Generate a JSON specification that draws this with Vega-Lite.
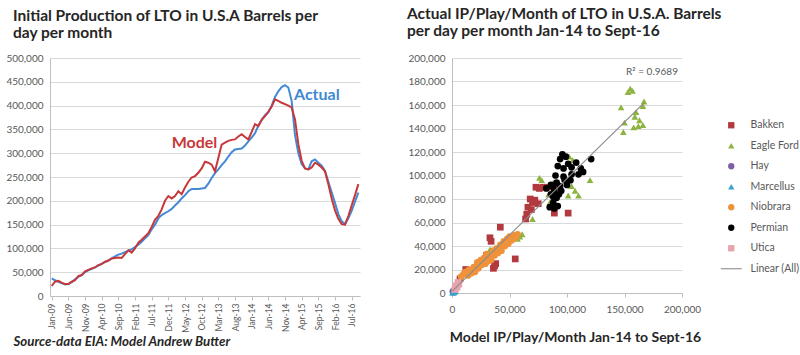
{
  "$schema": "https://vega.github.io/schema/vega-lite/v6.json",
  "background": "white",
  "padding": {"left": 5, "top": 6, "right": 5, "bottom": 5},
  "spacing": 44,
  "config": {"font": "Lato", "view": {"stroke": null}},
  "resolve": {"scale": {"color": "independent", "shape": "independent", "size": "independent"}, "legend": {"color": "independent", "shape": "independent"}},
  "datasets": {
    "prod": [
      {"m":"Jan-09","Actual":37000,"Model":21000},{"m":"Feb-09","Actual":33000,"Model":30000},{"m":"Mar-09","Actual":30000,"Model":32000},{"m":"Apr-09","Actual":27000,"Model":28000},{"m":"May-09","Actual":24000,"Model":25000},{"m":"Jun-09","Actual":25000,"Model":25000},{"m":"Jul-09","Actual":29000,"Model":30000},{"m":"Aug-09","Actual":35000,"Model":33000},{"m":"Sep-09","Actual":40000,"Model":42000},{"m":"Oct-09","Actual":44000,"Model":44000},{"m":"Nov-09","Actual":50000,"Model":52000},{"m":"Dec-09","Actual":54000,"Model":55000},
      {"m":"Jan-10","Actual":57000,"Model":58000},{"m":"Feb-10","Actual":60000,"Model":60000},{"m":"Mar-10","Actual":64000,"Model":65000},{"m":"Apr-10","Actual":68000,"Model":67000},{"m":"May-10","Actual":71000,"Model":72000},{"m":"Jun-10","Actual":75000,"Model":74000},{"m":"Jul-10","Actual":79000,"Model":79000},{"m":"Aug-10","Actual":83000,"Model":80000},{"m":"Sep-10","Actual":87000,"Model":81000},{"m":"Oct-10","Actual":89000,"Model":80000},{"m":"Nov-10","Actual":92000,"Model":88000},{"m":"Dec-10","Actual":95000,"Model":96000},
      {"m":"Jan-11","Actual":98000,"Model":91000},{"m":"Feb-11","Actual":103000,"Model":100000},{"m":"Mar-11","Actual":108000,"Model":112000},{"m":"Apr-11","Actual":114000,"Model":118000},{"m":"May-11","Actual":121000,"Model":125000},{"m":"Jun-11","Actual":128000,"Model":132000},{"m":"Jul-11","Actual":140000,"Model":145000},{"m":"Aug-11","Actual":150000,"Model":160000},{"m":"Sep-11","Actual":163000,"Model":168000},{"m":"Oct-11","Actual":170000,"Model":182000},{"m":"Nov-11","Actual":174000,"Model":200000},{"m":"Dec-11","Actual":178000,"Model":210000},
      {"m":"Jan-12","Actual":183000,"Model":205000},{"m":"Feb-12","Actual":190000,"Model":210000},{"m":"Mar-12","Actual":197000,"Model":220000},{"m":"Apr-12","Actual":205000,"Model":214000},{"m":"May-12","Actual":212000,"Model":228000},{"m":"Jun-12","Actual":220000,"Model":240000},{"m":"Jul-12","Actual":225000,"Model":249000},{"m":"Aug-12","Actual":225000,"Model":252000},{"m":"Sep-12","Actual":225000,"Model":259000},{"m":"Oct-12","Actual":226000,"Model":268000},{"m":"Nov-12","Actual":227000,"Model":282000},{"m":"Dec-12","Actual":236000,"Model":280000},
      {"m":"Jan-13","Actual":248000,"Model":276000},{"m":"Feb-13","Actual":258000,"Model":262000},{"m":"Mar-13","Actual":266000,"Model":290000},{"m":"Apr-13","Actual":275000,"Model":318000},{"m":"May-13","Actual":283000,"Model":322000},{"m":"Jun-13","Actual":293000,"Model":326000},{"m":"Jul-13","Actual":302000,"Model":328000},{"m":"Aug-13","Actual":308000,"Model":329000},{"m":"Sep-13","Actual":309000,"Model":335000},{"m":"Oct-13","Actual":310000,"Model":340000},{"m":"Nov-13","Actual":316000,"Model":334000},{"m":"Dec-13","Actual":325000,"Model":329000},
      {"m":"Jan-14","Actual":333000,"Model":345000},{"m":"Feb-14","Actual":342000,"Model":361000},{"m":"Mar-14","Actual":358000,"Model":357000},{"m":"Apr-14","Actual":370000,"Model":370000},{"m":"May-14","Actual":380000,"Model":378000},{"m":"Jun-14","Actual":386000,"Model":387000},{"m":"Jul-14","Actual":400000,"Model":398000},{"m":"Aug-14","Actual":418000,"Model":413000},{"m":"Sep-14","Actual":430000,"Model":410000},{"m":"Oct-14","Actual":439000,"Model":406000},{"m":"Nov-14","Actual":443000,"Model":403000},{"m":"Dec-14","Actual":438000,"Model":400000},
      {"m":"Jan-15","Actual":410000,"Model":396000},{"m":"Feb-15","Actual":338000,"Model":371000},{"m":"Mar-15","Actual":300000,"Model":319000},{"m":"Apr-15","Actual":277000,"Model":284000},{"m":"May-15","Actual":268000,"Model":268000},{"m":"Jun-15","Actual":266000,"Model":266000},{"m":"Jul-15","Actual":283000,"Model":270000},{"m":"Aug-15","Actual":287000,"Model":280000},{"m":"Sep-15","Actual":280000,"Model":276000},{"m":"Oct-15","Actual":274000,"Model":270000},{"m":"Nov-15","Actual":263000,"Model":262000},{"m":"Dec-15","Actual":240000,"Model":235000},
      {"m":"Jan-16","Actual":218000,"Model":205000},{"m":"Feb-16","Actual":196000,"Model":180000},{"m":"Mar-16","Actual":172000,"Model":162000},{"m":"Apr-16","Actual":157000,"Model":151000},{"m":"May-16","Actual":151000,"Model":150000},{"m":"Jun-16","Actual":163000,"Model":168000},{"m":"Jul-16","Actual":179000,"Model":190000},{"m":"Aug-16","Actual":198000,"Model":212000},{"m":"Sep-16","Actual":217000,"Model":235000}
    ],
    "scatter": [
      {"play":"Bakken","x":73000,"y":90000},{"play":"Bakken","x":79000,"y":90000},{"play":"Bakken","x":76000,"y":89000},{"play":"Bakken","x":83000,"y":90000},{"play":"Bakken","x":68000,"y":80000},{"play":"Bakken","x":70000,"y":77000},{"play":"Bakken","x":66000,"y":73000},{"play":"Bakken","x":65000,"y":67000},{"play":"Bakken","x":75000,"y":76000},{"play":"Bakken","x":72000,"y":79000},{"play":"Bakken","x":69000,"y":71000},{"play":"Bakken","x":64000,"y":63000},{"play":"Bakken","x":89000,"y":68000},{"play":"Bakken","x":101000,"y":68000},{"play":"Bakken","x":90000,"y":90000},{"play":"Bakken","x":42000,"y":56000},{"play":"Bakken","x":33000,"y":47000},{"play":"Bakken","x":34000,"y":44000},{"play":"Bakken","x":37000,"y":23000},{"play":"Bakken","x":36000,"y":21000},{"play":"Bakken","x":38000,"y":25000},{"play":"Bakken","x":55000,"y":29000},{"play":"Bakken","x":12000,"y":20000},{"play":"Bakken","x":7000,"y":12000},{"play":"Bakken","x":14000,"y":18000},{"play":"Bakken","x":30000,"y":32000},{"play":"Bakken","x":45000,"y":41000},
      {"play":"Eagle Ford","x":155000,"y":174000},{"play":"Eagle Ford","x":153000,"y":171000},{"play":"Eagle Ford","x":157000,"y":172000},{"play":"Eagle Ford","x":147000,"y":158000},{"play":"Eagle Ford","x":167000,"y":163000},{"play":"Eagle Ford","x":166000,"y":159000},{"play":"Eagle Ford","x":160000,"y":154000},{"play":"Eagle Ford","x":159000,"y":150000},{"play":"Eagle Ford","x":163000,"y":147000},{"play":"Eagle Ford","x":162000,"y":142000},{"play":"Eagle Ford","x":158000,"y":141000},{"play":"Eagle Ford","x":150000,"y":145000},{"play":"Eagle Ford","x":149000,"y":137000},{"play":"Eagle Ford","x":166000,"y":143000},
      {"play":"Eagle Ford","x":102000,"y":116000},{"play":"Eagle Ford","x":105000,"y":113000},{"play":"Eagle Ford","x":78000,"y":96000},{"play":"Eagle Ford","x":76000,"y":98000},{"play":"Eagle Ford","x":120000,"y":96000},{"play":"Eagle Ford","x":104000,"y":91000},{"play":"Eagle Ford","x":107000,"y":87000},{"play":"Eagle Ford","x":101000,"y":83000},{"play":"Eagle Ford","x":110000,"y":83000},{"play":"Eagle Ford","x":88000,"y":94000},{"play":"Eagle Ford","x":84000,"y":84000},{"play":"Eagle Ford","x":85000,"y":77000},{"play":"Eagle Ford","x":88000,"y":80000},{"play":"Eagle Ford","x":70000,"y":63000},{"play":"Eagle Ford","x":61000,"y":50000},{"play":"Eagle Ford","x":59000,"y":48000},{"play":"Eagle Ford","x":57000,"y":46000},{"play":"Eagle Ford","x":33000,"y":37000},
      {"play":"Hay","x":1000,"y":1000},{"play":"Hay","x":1500,"y":800},{"play":"Hay","x":800,"y":1300},
      {"play":"Marcellus","x":500,"y":300},{"play":"Marcellus","x":1000,"y":600},{"play":"Marcellus","x":1500,"y":900},{"play":"Marcellus","x":2000,"y":1200},{"play":"Marcellus","x":2500,"y":1500},{"play":"Marcellus","x":3000,"y":1800},{"play":"Marcellus","x":800,"y":1500},{"play":"Marcellus","x":1800,"y":500},
      {"play":"Niobrara","x":8000,"y":14000},{"play":"Niobrara","x":10000,"y":16000},{"play":"Niobrara","x":12000,"y":18000},{"play":"Niobrara","x":14000,"y":15000},{"play":"Niobrara","x":15000,"y":20000},{"play":"Niobrara","x":17000,"y":17000},{"play":"Niobrara","x":19000,"y":22000},{"play":"Niobrara","x":20000,"y":18000},{"play":"Niobrara","x":22000,"y":26000},{"play":"Niobrara","x":23000,"y":21000},{"play":"Niobrara","x":25000,"y":28000},{"play":"Niobrara","x":26000,"y":24000},{"play":"Niobrara","x":28000,"y":30000},{"play":"Niobrara","x":29000,"y":25000},{"play":"Niobrara","x":30000,"y":33000},{"play":"Niobrara","x":31000,"y":27000},{"play":"Niobrara","x":33000,"y":31000},{"play":"Niobrara","x":34000,"y":28000},{"play":"Niobrara","x":36000,"y":36000},{"play":"Niobrara","x":37000,"y":32000},{"play":"Niobrara","x":39000,"y":38000},{"play":"Niobrara","x":40000,"y":34000},{"play":"Niobrara","x":42000,"y":41000},{"play":"Niobrara","x":43000,"y":36000},{"play":"Niobrara","x":45000,"y":44000},{"play":"Niobrara","x":46000,"y":40000},{"play":"Niobrara","x":48000,"y":46000},{"play":"Niobrara","x":49000,"y":42000},{"play":"Niobrara","x":50000,"y":48000},{"play":"Niobrara","x":52000,"y":45000},{"play":"Niobrara","x":54000,"y":49000},{"play":"Niobrara","x":55000,"y":47000},{"play":"Niobrara","x":57000,"y":50000},
      {"play":"Permian","x":96000,"y":118000},{"play":"Permian","x":99000,"y":116000},{"play":"Permian","x":94000,"y":114000},{"play":"Permian","x":101000,"y":110000},{"play":"Permian","x":92000,"y":108000},{"play":"Permian","x":121000,"y":114000},{"play":"Permian","x":108000,"y":111000},{"play":"Permian","x":112000,"y":106000},{"play":"Permian","x":104000,"y":107000},{"play":"Permian","x":97000,"y":106000},{"play":"Permian","x":110000,"y":101000},{"play":"Permian","x":104000,"y":101000},{"play":"Permian","x":97000,"y":99000},{"play":"Permian","x":91000,"y":94000},{"play":"Permian","x":88000,"y":90000},{"play":"Permian","x":94000,"y":91000},{"play":"Permian","x":89000,"y":87000},{"play":"Permian","x":86000,"y":84000},{"play":"Permian","x":91000,"y":81000},{"play":"Permian","x":88000,"y":77000},{"play":"Permian","x":92000,"y":74000},{"play":"Permian","x":85000,"y":73000},{"play":"Permian","x":89000,"y":72000},{"play":"Permian","x":95000,"y":87000},{"play":"Permian","x":82000,"y":89000},{"play":"Permian","x":98000,"y":96000},{"play":"Permian","x":90000,"y":100000},{"play":"Permian","x":86000,"y":92000},{"play":"Permian","x":93000,"y":84000},{"play":"Permian","x":100000,"y":92000},{"play":"Permian","x":88000,"y":82000},{"play":"Permian","x":114000,"y":103000},{"play":"Permian","x":103000,"y":96000},
      {"play":"Utica","x":5200,"y":9000},{"play":"Utica","x":3800,"y":6200},{"play":"Utica","x":4500,"y":5000},{"play":"Utica","x":3000,"y":4000},{"play":"Utica","x":2500,"y":3000},{"play":"Utica","x":6000,"y":7500}
    ]
  },
  "hconcat": [
    {
      "width": 310,
      "height": 238,
      "title": {"text": ["Initial Production of LTO in U.S.A Barrels per", "day per month"], "anchor": "start", "frame": "group", "dx": -37, "fontSize": 15.5, "fontWeight": "bold", "color": "#262626", "lineHeight": 17.5, "offset": 11.5},
      "data": {"name": "prod"},
      "layer": [
        {
          "transform": [{"fold": ["Actual", "Model"], "as": ["series", "v"]}],
          "mark": {"type": "line", "strokeWidth": 2},
          "encoding": {
            "x": {"field": "m", "type": "ordinal", "sort": null,
              "scale": {"type": "point", "padding": 0.5, "domain": ["Jan-09","Feb-09","Mar-09","Apr-09","May-09","Jun-09","Jul-09","Aug-09","Sep-09","Oct-09","Nov-09","Dec-09","Jan-10","Feb-10","Mar-10","Apr-10","May-10","Jun-10","Jul-10","Aug-10","Sep-10","Oct-10","Nov-10","Dec-10","Jan-11","Feb-11","Mar-11","Apr-11","May-11","Jun-11","Jul-11","Aug-11","Sep-11","Oct-11","Nov-11","Dec-11","Jan-12","Feb-12","Mar-12","Apr-12","May-12","Jun-12","Jul-12","Aug-12","Sep-12","Oct-12","Nov-12","Dec-12","Jan-13","Feb-13","Mar-13","Apr-13","May-13","Jun-13","Jul-13","Aug-13","Sep-13","Oct-13","Nov-13","Dec-13","Jan-14","Feb-14","Mar-14","Apr-14","May-14","Jun-14","Jul-14","Aug-14","Sep-14","Oct-14","Nov-14","Dec-14","Jan-15","Feb-15","Mar-15","Apr-15","May-15","Jun-15","Jul-15","Aug-15","Sep-15","Oct-15","Nov-15","Dec-15","Jan-16","Feb-16","Mar-16","Apr-16","May-16","Jun-16","Jul-16","Aug-16","Sep-16"]},
              "axis": {"values": ["Jan-09","Jun-09","Nov-09","Apr-10","Sep-10","Feb-11","Jul-11","Dec-11","May-12","Oct-12","Mar-13","Aug-13","Jan-14","Jun-14","Nov-14","Apr-15","Sep-15","Feb-16","Jul-16"],
                "labelAngle": 270, "labelFontSize": 8.5, "labelColor": "#595959", "labelPadding": 3,
                "ticks": true, "tickSize": 4, "tickColor": "#bfbfbf", "domainColor": "#bfbfbf", "grid": false, "labelOverlap": false,
                "title": "Source-data EIA: Model Andrew Butter", "titleFontStyle": "italic", "titleFontWeight": "bold", "titleFontSize": 13.3, "titleColor": "#262626",
                "titleAlign": "left", "titleAnchor": "start", "titleX": -37, "titleY": 49, "titleBaseline": "alphabetic"}},
            "y": {"field": "v", "type": "quantitative", "scale": {"domain": [0, 500000]},
              "axis": {"tickCount": 10, "format": ",d", "title": null, "grid": true, "gridColor": "#d9d9d9", "domainColor": "#bfbfbf", "ticks": false, "labelPadding": 7, "labelFontSize": 10, "labelColor": "#595959", "minExtent": 45, "maxExtent": 45}},
            "color": {"field": "series", "type": "nominal", "scale": {"domain": ["Actual", "Model"], "range": ["#4489D4", "#C8383B"]}, "legend": null}
          }
        },
        {
          "data": {"values": [{}]},
          "mark": {"type": "text", "fontWeight": "bold", "fontSize": 16, "align": "left", "baseline": "middle", "color": "#C8383B"},
          "encoding": {"x": {"datum": "Jan-12", "type": "ordinal"}, "y": {"datum": 321000, "type": "quantitative"}, "text": {"value": "Model"}}
        },
        {
          "data": {"values": [{}]},
          "mark": {"type": "text", "fontWeight": "bold", "fontSize": 16, "align": "left", "baseline": "middle", "color": "#3F88D2", "dx": -1},
          "encoding": {"x": {"datum": "Feb-15", "type": "ordinal"}, "y": {"datum": 422000, "type": "quantitative"}, "text": {"value": "Actual"}}
        }
      ]
    },
    {
      "width": 230,
      "height": 235,
      "title": {"text": ["Actual IP/Play/Month of LTO in U.S.A. Barrels", "per day per month Jan-14 to Sept-16"], "anchor": "start", "frame": "group", "dx": -45, "fontSize": 15.5, "fontWeight": "bold", "color": "#262626", "lineHeight": 17.5, "offset": 13.5},
      "data": {"name": "scatter"},
      "layer": [
        {
          "mark": {"type": "point", "filled": true, "opacity": 1},
          "encoding": {
            "x": {"field": "x", "type": "quantitative", "scale": {"domain": [0, 200000]},
              "axis": {"values": [0, 50000, 100000, 150000, 200000], "format": ",d", "grid": false, "ticks": true, "tickSize": 4, "tickColor": "#bfbfbf", "domainColor": "#bfbfbf", "labelFontSize": 10, "labelColor": "#595959", "labelPadding": 7, "labelFlush": false,
                "title": "Model IP/Play/Month Jan-14 to Sept-16", "titleFontSize": 14, "titleFontWeight": "bold", "titleColor": "#262626", "titleX": 123, "titleY": 48, "titleAlign": "center", "titleBaseline": "alphabetic"}},
            "y": {"field": "y", "type": "quantitative", "scale": {"domain": [0, 200000]},
              "axis": {"tickCount": 10, "format": ",d", "title": null, "grid": true, "gridColor": "#d9d9d9", "domainColor": "#bfbfbf", "ticks": false, "labelPadding": 7, "labelFontSize": 10, "labelColor": "#595959", "minExtent": 45, "maxExtent": 45}},
            "color": {"field": "play", "type": "nominal",
              "scale": {"domain": ["Bakken", "Eagle Ford", "Hay", "Marcellus", "Niobrara", "Permian", "Utica", "Linear (All)"], "range": ["#B23A3F", "#8DB43E", "#7E5FA6", "#3AA3C8", "#F0923A", "#000000", "#E9A3AC", "#8C8C8C"]},
              "legend": {"title": null, "orient": "none", "legendX": 274, "legendY": 62, "symbolSize": 40, "labelFontSize": 10.5, "labelColor": "#595959", "rowPadding": 9.5, "labelOffset": 14,
                "encode": {"symbols": {"update": {"size": [{"test": "datum.value === 'Hay'", "value": 12}, {"value": 40}]}}}}},
            "shape": {"field": "play", "type": "nominal",
              "scale": {"domain": ["Bakken", "Eagle Ford", "Hay", "Marcellus", "Niobrara", "Permian", "Utica", "Linear (All)"], "range": ["square", "triangle-up", "circle", "triangle-up", "circle", "circle", "square", "M-3.3,-0.17H3.3V0.17H-3.3Z"]},
              "legend": {"title": null, "orient": "none", "legendX": 274, "legendY": 62, "symbolSize": 40, "labelFontSize": 10.5, "labelColor": "#595959", "rowPadding": 9.5, "labelOffset": 14}},
            "size": {"field": "play", "type": "nominal", "legend": null,
              "scale": {"domain": ["Bakken", "Eagle Ford", "Hay", "Marcellus", "Niobrara", "Permian", "Utica"], "range": [45, 45, 12, 40, 46, 15, 40]}}
          }
        },
        {
          "transform": [{"regression": "y", "on": "x"}],
          "mark": {"type": "line", "color": "#8C8C8C", "strokeWidth": 1.2},
          "encoding": {"x": {"field": "x", "type": "quantitative"}, "y": {"field": "y", "type": "quantitative"}}
        },
        {
          "data": {"values": [{}]},
          "mark": {"type": "text", "align": "right", "baseline": "middle", "fontSize": 10, "color": "#595959"},
          "encoding": {"x": {"datum": 196500}, "y": {"datum": 187800}, "text": {"value": "R² = 0.9689"}}
        }
      ]
    }
  ]
}
